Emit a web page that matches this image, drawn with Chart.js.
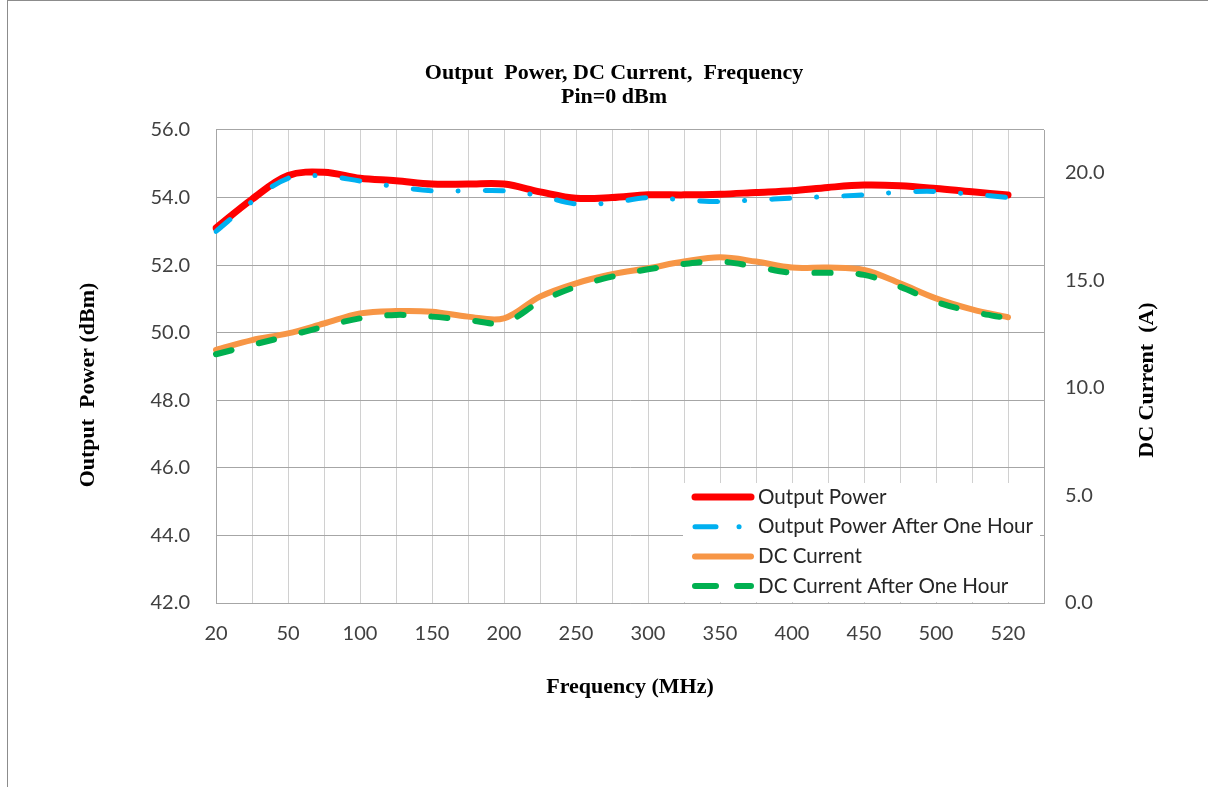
<!DOCTYPE html>
<html>
<head>
<meta charset="utf-8">
<script src="https://cdn.jsdelivr.net/npm/chart.js@4.4.0/dist/chart.umd.min.js"></script>
<style>
  body { margin: 0; background: #fff; }
  #frame { position: absolute; left: 7px; top: 0; width: 1300px; height: 900px; border: 1px solid #8c8c8c; box-sizing: border-box; }
  canvas { position: absolute; left: 0; top: 0; }
</style>
</head>
<body>
<div id="frame"></div>
<canvas id="powerChart" width="1208" height="787"></canvas>
<script>
// Frequency points (MHz) - every other one is labelled on the axis
const frequencies = ['20', '35', '50', '75', '100', '125', '150', '175', '200', '225', '250', '275',
    '300', '325', '350', '375', '400', '425', '450', '475', '500', '510', '520'];

// Output power (dBm), left axis
const outputPower = [53.1, 53.95, 54.65, 54.75, 54.57, 54.5, 54.4, 54.4, 54.4, 54.17, 53.98, 54.0,
    54.08, 54.08, 54.1, 54.15, 54.2, 54.3, 54.37, 54.35, 54.27, 54.17, 54.08];
const outputPowerHour = [53.0, 53.88, 54.57, 54.64, 54.49, 54.32, 54.2, 54.2, 54.2, 54.05, 53.81, 53.85,
    54.0, 53.93, 53.88, 53.93, 53.98, 54.03, 54.08, 54.16, 54.18, 54.1, 54.0];

// DC current (A), right axis
const dcCurrent = [11.77, 12.23, 12.54, 13.0, 13.47, 13.58, 13.55, 13.32, 13.24, 14.25, 14.87, 15.29,
    15.57, 15.88, 16.08, 15.88, 15.6, 15.6, 15.49, 14.87, 14.17, 13.66, 13.29];
const dcCurrentHour = [11.57, 12.0, 12.42, 12.85, 13.24, 13.4, 13.32, 13.16, 13.04, 14.01, 14.71, 15.18,
    15.52, 15.77, 15.88, 15.64, 15.36, 15.36, 15.26, 14.71, 14.01, 13.55, 13.24];

const seriesNames = ['Output Power', 'Output Power After One Hour', 'DC Current', 'DC Current After One Hour'];

// Excel leaves one empty category after 520
const xLabels = frequencies.concat(['']);

const tickFont = { family: 'Lato', size: 20 };
const serifBold = 'bold 22px "Liberation Serif"';

// legend drawn inside the plot, bottom right, like the Excel original
const legendDashes = [[], [21, 23, 0.1, 100], [], [21, 21, 14]];
const insideLegend = {
    id: 'insideLegend',
    afterDatasetsDraw(chart) {
        const { ctx, chartArea } = chart;
        const x0 = chartArea.right - 361;
        const y0 = chartArea.bottom - 120;
        ctx.save();
        ctx.fillStyle = '#fff';
        ctx.fillRect(x0, y0, 357, 119);
        chart.data.datasets.forEach((ds, i) => {
            const y = y0 + 14 + i * 29.7;
            ctx.beginPath();
            ctx.lineWidth = ds.borderWidth;
            ctx.strokeStyle = ds.borderColor;
            ctx.lineCap = 'round';
            ctx.setLineDash(legendDashes[i]);
            ctx.moveTo(x0 + 12, y);
            ctx.lineTo(x0 + 68, y);
            ctx.stroke();
            ctx.setLineDash([]);
            ctx.fillStyle = '#262626';
            ctx.font = '20.6px Lato';
            ctx.textBaseline = 'middle';
            ctx.textAlign = 'left';
            ctx.fillText(ds.label, x0 + 75, y);
        });
        ctx.restore();
    }
};

// vertical axis titles (both read bottom to top)
const axisTitles = {
    id: 'axisTitles',
    afterDraw(chart) {
        const ctx = chart.ctx;
        ctx.save();
        ctx.font = serifBold;
        ctx.fillStyle = '#000';
        ctx.textAlign = 'center';
        ctx.textBaseline = 'middle';
        [['Output  Power (dBm)', 88, 385], ['DC Current  (A)', 1147, 380]].forEach(([txt, x, y]) => {
            ctx.save();
            ctx.translate(x, y);
            ctx.rotate(-Math.PI / 2);
            ctx.fillText(txt, 0, 0);
            ctx.restore();
        });
        ctx.restore();
    }
};

const ctx = document.getElementById('powerChart').getContext('2d');

new Chart(ctx, {
    type: 'line',
    data: {
        labels: xLabels,
        datasets: [{
            label: seriesNames[0],
            data: outputPower,
            borderColor: '#ff0000',
            borderWidth: 7,
            yAxisID: 'y',
            order: 3
        }, {
            label: seriesNames[1],
            data: outputPowerHour,
            borderColor: '#00b0f0',
            borderWidth: 5,
            borderDash: [18, 27, 0.1, 27],
            yAxisID: 'y',
            order: 2
        }, {
            label: seriesNames[2],
            data: dcCurrent,
            borderColor: '#f79646',
            borderWidth: 6,
            yAxisID: 'y1',
            order: 1
        }, {
            label: seriesNames[3],
            data: dcCurrentHour,
            borderColor: '#00b050',
            borderWidth: 6,
            borderDash: [16, 28],
            yAxisID: 'y1',
            order: 0
        }]
    },
    options: {
        responsive: false,
        animation: false,
        layout: { padding: { left: 20, right: 0, top: 0, bottom: 0 } },
        elements: {
            point: { radius: 0 },
            line: { tension: 0.35, borderCapStyle: 'round', fill: false }
        },
        plugins: {
            legend: { display: false },
            tooltip: { enabled: false },
            title: {
                display: true,
                text: ['Output  Power, DC Current,  Frequency', 'Pin=0 dBm'],
                color: '#000',
                font: { family: 'Liberation Serif', size: 22, weight: 'bold', lineHeight: 1.0909 },
                padding: { top: 61, bottom: 21 }
            }
        },
        scales: {
            x: {
                type: 'category',
                offset: false,
                grid: {
                    color: (c) => c.index === xLabels.length - 1 ? '#a6a6a6' : '#d0d0d0',
                    drawTicks: false
                },
                border: { color: '#a6a6a6' },
                ticks: {
                    autoSkip: false,
                    maxRotation: 0,
                    padding: 19,
                    color: '#404040',
                    font: tickFont,
                    callback: (v, i) => i % 2 === 0 ? xLabels[i] : ''
                },
                title: {
                    display: true,
                    text: 'Frequency (MHz)',
                    color: '#000',
                    font: { family: 'Liberation Serif', size: 22, weight: 'bold' },
                    padding: { top: 0, bottom: 86 }
                },
                afterFit: (scale) => { scale.height = 184; }
            },
            y: {
                position: 'left',
                min: 42,
                max: 56,
                grid: { color: '#a6a6a6', drawTicks: false },
                border: { color: '#a6a6a6' },
                ticks: {
                    stepSize: 2,
                    padding: 26,
                    color: '#404040',
                    font: tickFont,
                    callback: (v) => v.toFixed(1)
                },
                afterFit: (scale) => { scale.width = 196; }
            },
            y1: {
                position: 'right',
                min: 0,
                max: 22,
                grid: { drawOnChartArea: false, drawTicks: false },
                border: { display: false },
                ticks: {
                    stepSize: 5,
                    padding: 21,
                    color: '#404040',
                    font: tickFont,
                    callback: (v) => v % 5 === 0 ? v.toFixed(1) : ''
                },
                afterFit: (scale) => { scale.width = 164; }
            }
        }
    },
    plugins: [insideLegend, axisTitles]
});
</script>
</body>
</html>
